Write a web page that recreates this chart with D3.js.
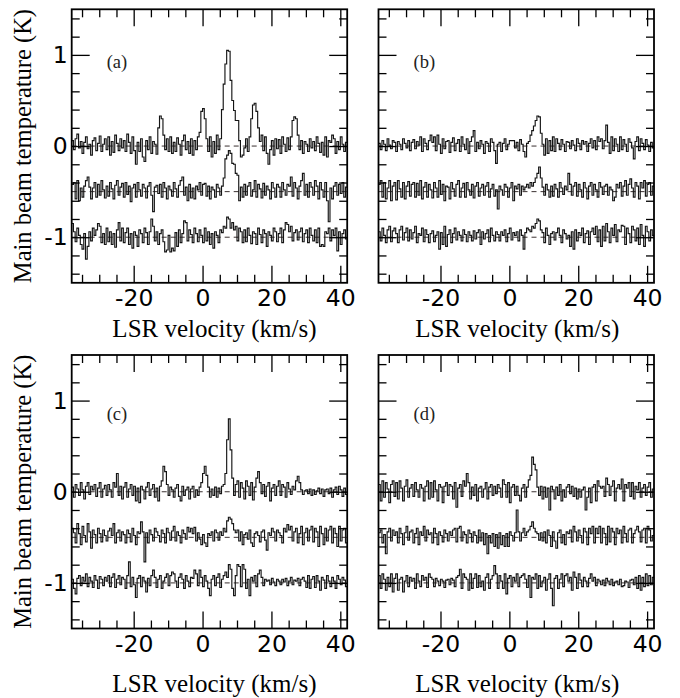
<!DOCTYPE html>
<html>
<head>
<meta charset="utf-8">
<script src="https://cdn.jsdelivr.net/npm/d3@7"></script>
<style>
  html, body { margin: 0; padding: 0; background: #fff; }
  svg { display: block; }
  .serif { font-family: 'Liberation Serif', 'Times New Roman', Times, serif; }
  .tick text { font-family: 'DejaVu Sans', sans-serif; }
</style>
</head>
<body>
<svg id="chart" width="680" height="698"></svg>
<script>
// channel grid: 160 channels of 0.5 km/s starting at -38 km/s
const vStart = -38, dv = 0.5;

// spectrum offsets (K) used to stack the three spectra of a panel
const offsets = [0, -0.5, -1];

// tick values
const xMajor = [-20, 0, 20, 40];
const xMinor = [-35, -30, -25, -15, -10, -5, 5, 10, 15, 25, 30, 35];
const yMajor = [-1, 0, 1];
const yMinor = [-1.4, -1.2, -0.8, -0.6, -0.4, -0.2, 0.2, 0.4, 0.6, 0.8, 1.2, 1.4];

// panel (a) — each row is 5 km/s
const aTop = [
  .06,-.04,.08,.13,-.02,.05,-.08,.04,.1,-.03,
  .02,-.1,.06,.09,-.05,.03,.11,-.06,.02,.08,
  -.04,.1,-.1,.05,-.07,.12,.03,-.05,.08,-.02,
  .06,-.06,.13,.04,-.08,.1,-.05,-.2,.04,-.06,
  .08,-.12,-.17,.06,-.04,.1,-.08,.05,.02,-.09,
  .2,.33,.3,.12,-.04,.08,-.06,.1,-.08,.04,
  -.06,.09,.02,-.1,.06,.12,-.04,.05,-.08,.08,
  -.1,.06,-.04,.1,.15,.38,.41,.3,.08,-.06,
  .1,-.12,.05,-.08,.12,-.04,.08,.4,.68,.9,
  1.05,1.04,.72,.5,.39,.28,.28,.06,-.12,-.1,
  -.02,.08,-.06,.1,.3,.45,.47,.38,.2,.05,
  .12,-.05,.1,-.08,-.2,-.04,.06,-.1,.08,-.03,
  .07,-.08,.1,.02,-.06,.09,-.04,.1,.28,.32,
  .3,.12,-.04,.06,-.08,.05,.02,-.06,.08,-.02,
  .05,-.05,.1,.03,-.07,.04,-.1,.1,-.12,.06,
  .04,.12,.08,-.08,.05,-.04,.1,.02,-.06,.04
];
const aMid = [
  .08,.1,-.08,.12,-.1,.04,-.06,.06,.12,.16,
  .05,-.08,.04,.1,-.06,.08,-.04,.12,.02,-.07,
  .06,-.05,.1,.03,-.08,.07,.12,-.04,.05,.09,
  -.06,.1,-.03,.06,-.11,.04,.08,-.06,.1,.02,
  -.05,.08,.04,-.07,.06,.1,-.04,-.22,.05,.07,
  -.02,.08,-.06,.1,.04,-.08,.06,.02,-.05,.1,
  .03,-.06,.07,.12,.16,-.04,.05,-.1,.08,-.07,
  .04,-.08,.06,.02,.1,-.04,.08,.09,-.05,.06,
  -.08,.05,.02,-.06,.08,.04,-.04,.06,.15,.36,
  .4,.45,.42,.31,.3,.2,.18,-.1,.05,-.06,
  .08,-.04,.06,.1,-.05,.02,.12,-.06,.08,.03,
  -.07,.09,-.04,.06,.02,-.08,.1,.04,-.06,.08,
  .05,-.06,.1,.02,-.04,.08,.06,.16,-.05,.1,
  .04,-.08,.06,.12,.2,-.04,.08,-.06,.1,.05,
  -.04,.12,.06,-.08,.1,.02,-.06,.1,-.1,-.33,
  .04,-.08,.06,.1,-.04,.08,-.02,.1,-.06,.05
];
const aBot = [
  .15,.06,-.05,.1,.02,-.08,-.13,.04,-.24,-.1,
  .06,-.04,.1,.02,.08,.15,.12,-.06,.04,-.08,
  .1,-.05,.06,-.08,.04,-.11,.08,.16,-.04,.1,
  -.06,.05,.1,-.08,.04,-.12,.06,.02,-.1,.08,
  .04,-.06,.1,.05,-.08,.06,.2,.12,-.04,.06,
  -.08,.04,.08,-.05,-.16,-.14,.02,-.16,-.12,-.15,
  .05,-.1,.08,-.06,.04,.18,.16,-.04,.08,.03,
  -.06,.1,.04,-.05,.08,.02,-.06,.1,-.04,.06,
  -.08,.04,-.12,.06,.02,-.06,.08,.05,.12,.1,
  .22,.2,.1,.16,.08,.12,-.04,.1,.06,-.06,
  .08,-.05,.1,.02,-.07,.06,.04,-.08,.1,.03,
  -.06,.08,.04,-.1,.06,.02,-.04,.1,.06,-.05,
  .04,.1,-.06,.08,.16,.14,.06,.12,-.04,.05,
  .08,-.03,.06,.1,-.05,.04,.08,-.06,.1,.02,
  -.04,.08,-.06,.1,-.1,-.08,-.1,.06,.04,.1,
  -.04,.08,.02,.1,-.15,.06,-.08,.04,.08,-.02
];

// panel (b)
const bTop = [
  .03,-.04,.06,.02,-.05,.08,.01,-.03,.06,.04,
  -.06,.05,.02,-.04,.08,.03,-.02,.06,-.05,.04,
  .07,-.03,.05,.01,.1,-.06,.08,.03,-.04,.06,
  .12,.04,.1,-.05,.12,.02,-.08,.08,-.03,.05,
  .06,-.07,.04,.09,-.05,.03,.07,-.06,.1,.02,
  -.04,.08,-.08,.05,.1,.17,-.06,.04,-.03,.06,
  .02,-.08,.05,.03,-.06,.08,.04,-.05,-.19,.02,
  .04,-.06,.03,.08,-.04,.02,.06,.06,.06,-.02,
  .04,-.05,.07,.02,-.06,-.12,.03,.05,.12,.17,
  .22,.28,.33,.32,.14,.02,-.1,.08,-.08,.06,
  -.05,.1,-.06,.08,.03,-.04,.07,.02,-.06,.05,
  .04,-.03,.06,.01,-.05,.08,.03,-.04,.06,.02,
  .05,-.06,.03,.08,-.02,.06,-.04,.1,.05,.08,
  -.03,.06,.23,.04,-.08,.1,-.05,.08,.02,-.06,
  .1,-.04,.07,.02,-.06,.08,.04,-.02,-.14,.05,
  .1,-.05,.08,.03,-.04,.07,.01,-.06,.04,-.02
];
const bMid = [
  .08,.12,-.06,.1,-.08,.04,.12,-.1,.06,.1,
  -.09,.12,.03,-.06,.1,-.08,.06,.11,-.05,.08,
  .1,-.06,.09,-.04,.12,-.08,.05,.1,-.06,.08,
  .02,-.07,.1,.04,-.06,.12,-.03,.08,-.1,.06,
  .05,-.08,.1,.03,-.05,.08,.12,-.06,.04,.09,
  -.06,.1,.02,-.04,.08,-.07,.06,.1,-.05,.04,
  .08,-.04,.06,.1,-.06,.03,.08,-.05,.02,-.19,
  .06,.02,-.04,.08,.05,-.06,.04,.1,-.1,.06,
  .03,.08,-.04,.06,.02,.05,.08,.04,.1,.06,
  .1,.15,.2,.27,.15,.05,-.04,.08,.02,-.06,
  .06,-.05,.08,.03,-.06,.1,.04,-.03,.06,.02,
  .2,.08,-.04,.06,.1,-.05,.08,.02,-.06,.1,
  .04,-.08,.06,.1,-.04,.08,.02,-.06,.1,.05,
  -.03,.06,.08,-.04,.05,.02,-.1,-.06,.08,.04,
  .1,-.05,.06,.12,-.04,.08,.14,.04,-.06,.1,
  .06,-.08,.1,.04,.12,-.05,.08,.1,-.04,.06
];
const bBot = [
  .06,-.04,.1,.02,-.06,.08,.12,-.05,.07,.1,
  .04,-.06,.08,.12,-.03,.05,.1,-.04,.08,-.02,
  .05,.12,-.06,.04,.02,.1,-.05,.08,.03,-.06,
  .04,.07,-.05,.02,.06,-.13,.05,-.08,.12,-.1,
  .03,.08,-.06,.04,.1,-.03,.06,.02,-.04,.08,
  .03,-.05,.06,.02,-.04,.07,-.02,.05,.08,-.08,
  .06,-.02,.04,.08,-.05,.1,.02,-.04,.06,.03,
  -.04,.06,.02,.08,-.05,.04,.1,-.03,.05,.02,
  .06,-.04,.08,.02,-.13,.05,.1,.08,.06,.12,
  .1,.15,.2,.18,.08,.05,-.06,.1,.02,-.08,
  .04,.06,-.03,.05,.1,.02,-.06,.08,.04,-.02,
  .02,-.1,.06,-.13,.08,-.04,.05,.02,.1,-.06,
  .04,.07,-.08,.06,.1,.03,.12,-.05,.08,-.1,
  .12,-.04,.15,.06,-.06,.1,.02,.14,-.05,.08,
  .06,.13,.12,-.08,.1,.04,-.06,.12,.08,-.04,
  .1,-.08,.14,.02,-.1,.12,.06,-.04,.08,.02
];

// panel (c)
const cTop = [
  .05,-.06,.08,.03,-.04,.1,.02,-.08,.06,.1,
  -.03,.06,.02,.08,-.05,.04,.1,-.06,.03,.07,
  -.04,.08,.02,-.06,.1,.05,.2,-.04,.06,-.08,
  .05,.1,-.06,.03,.08,-.04,.06,-.1,.04,-.12,
  .06,.02,-.08,.05,.1,-.04,.03,.08,-.06,.04,
  -.1,.06,.12,.28,.22,.08,-.04,.05,.02,-.06,
  .04,.08,-.05,-.1,.06,-.04,.02,.05,-.08,.03,
  .06,-.06,.02,-.04,.05,.1,.2,.28,.18,.05,
  -.06,.03,-.04,.05,-.06,.04,-.02,.06,.08,.2,
  .57,.8,.46,.15,-.04,.08,.12,-.06,.1,.04,
  -.08,.12,.06,-.04,.1,-.09,.05,.15,.22,.1,
  -.02,.08,-.05,.06,.1,-.1,.04,.08,-.04,.06,
  .12,-.04,.08,.05,-.06,.1,.03,-.03,.06,.02,
  .12,.17,.1,.02,-.03,.01,.02,-.02,.03,-.04,
  .02,-.03,.01,.04,-.02,.03,-.05,.02,.03,-.02,
  .04,-.06,.02,.05,-.03,.06,.02,-.05,.04,-.03
];
const cMid = [
  .1,.05,-.06,.15,.04,-.08,.12,.02,-.05,.15,
  .06,-.12,.08,.03,-.06,.1,.04,-.05,.08,.02,
  -.04,.07,.1,.02,.15,-.06,.05,.08,-.04,.06,
  .03,-.06,.08,.04,-.05,.1,.02,-.08,.06,.04,
  .17,.06,-.27,.05,-.06,.08,.03,-.04,.1,.06,
  .02,-.05,.08,.04,-.06,.1,.05,-.03,.07,.12,
  -.04,.06,.02,-.06,.08,.04,-.02,.11,.06,.1,
  .04,.11,-.04,.05,-.02,-.08,.03,-.06,-.1,.04,
  .02,.06,-.04,.08,.05,-.03,.06,.02,.1,.06,
  .18,.22,.2,.15,.08,.05,.08,-.04,.06,-.08,
  .03,.05,-.02,.08,-.06,-.1,.04,.06,.02,-.05,
  .06,.08,-.03,-.14,.05,.02,.1,.06,-.04,.08,
  .05,.02,-.06,.1,.06,.14,.08,.12,-.04,.06,
  .1,-.06,.04,.12,-.08,.05,.1,-.04,.08,.12,
  -.05,.1,.06,-.1,.12,.04,-.08,.1,-.04,.08,
  .12,-.06,.1,.04,-.1,.12,-.04,.08,.1,-.06
];
const cBot = [
  .04,-.06,-.12,.05,.08,-.03,.06,.02,.1,-.04,
  .06,.02,-.05,.08,.03,-.06,.07,.04,-.03,.06,
  .02,.08,-.04,.06,.1,-.05,.04,.08,-.02,.06,
  .04,-.06,.08,.23,-.04,.06,-.02,-.16,.05,.08,
  -.04,.06,.02,-.1,.05,-.03,.08,.14,.06,-.05,
  .04,.08,-.06,.02,.06,.1,-.03,.08,.12,.1,
  .02,-.05,.06,.1,.04,-.06,.08,.02,-.04,.06,
  .05,.14,.1,-.03,.14,.06,-.04,.08,.02,-.06,
  -.14,.04,.08,-.03,.06,.1,-.05,.04,.08,.12,
  .06,.2,.15,-.06,-.14,.08,.2,.18,-.04,.2,
  .15,-.06,.04,-.14,.06,.02,.08,-.04,.1,.14,
  .06,-.03,.04,.02,.03,-.02,.05,.01,-.03,.04,
  .02,-.02,.04,.01,.05,-.03,.02,.06,-.02,.03,
  .02,.05,-.03,.04,.06,.02,-.05,.08,-.06,.04,
  .07,-.05,.08,.02,-.08,.06,.03,-.06,.08,.02,
  -.04,.06,.02,-.06,.08,.04,-.02,.06,.03,-.04
];

// panel (d)
const dTop = [
  .08,-.1,.12,-.06,.1,.03,-.12,.08,.12,-.05,
  .1,-.08,.12,.04,-.1,.06,.13,-.06,.04,.08,
  -.05,.1,.02,-.06,.08,.04,-.1,.06,.12,-.08,
  .1,-.06,.12,.02,-.1,.08,.05,-.12,.06,.1,
  -.04,.08,.06,-.08,.1,-.17,.04,.08,-.05,.12,
  .06,.2,.1,-.08,.05,-.04,.08,-.1,.04,.06,
  -.06,.03,.1,-.08,.05,.08,-.04,.06,-.02,.08,
  .04,-.06,.13,.08,-.06,.1,-.12,.05,.08,-.04,
  .06,-.04,-.1,.04,.08,-.06,.05,.13,.18,.38,
  .3,.24,.05,-.04,.06,-.08,.05,-.06,.04,-.2,
  .06,.02,-.08,.05,-.04,.08,-.1,.02,-.06,.05,
  .08,-.02,.06,-.05,.04,-.08,.03,-.06,.02,.05,
  -.2,-.06,.04,-.12,.05,.08,-.1,.12,.06,.04,
  .06,-.05,.15,.08,-.04,.06,.12,-.1,.04,.08,
  .03,.14,-.1,.08,.04,.1,-.05,.1,-.08,.06,
  .02,.1,-.06,.04,.08,-.04,.05,.1,-.06,.03
];
const dMid = [
  .05,.08,-.06,.03,-.18,.06,.1,-.04,.08,.02,
  .06,-.06,.1,.04,-.08,.05,.12,-.03,.06,.08,
  -.06,.04,.1,-.08,.06,.02,.12,-.04,.08,.03,
  .05,-.06,.1,.04,-.08,.06,.02,-.05,.08,.04,
  -.04,.06,.02,.08,.1,-.05,.1,.12,-.04,.06,
  .03,-.06,.08,.04,-.05,.06,.02,-.06,.08,-.04,
  .05,-.08,.04,-.18,.02,-.06,.04,-.1,.03,-.12,
  .05,-.08,.02,-.1,.04,-.1,.06,.02,-.04,.05,
  .3,.06,-.04,.05,.1,.02,.06,.08,.12,.17,
  .1,.06,.04,-.03,.05,-.04,.06,-.06,.08,.02,
  -.1,.06,-.04,-.12,.05,.08,-.06,.03,-.08,.06,
  .04,.08,-.05,.12,.06,-.04,.08,.02,-.06,.1,
  .06,-.08,.1,.04,.12,-.06,.1,.04,.12,-.06,
  .1,.04,-.08,.12,-.05,.1,.06,-.08,.1,.04,
  .08,-.06,.12,.04,-.05,.08,.1,-.06,.04,.08,
  .12,.06,-.05,.08,.1,-.06,.12,.08,-.04,.02
];
const dBot = [
  .08,-.06,.1,.04,-.08,.06,-.04,.1,-.1,.05,
  .1,-.08,.04,.06,-.1,.02,.08,-.04,.06,.02,
  .05,-.06,.1,.02,-.04,.08,.03,.06,-.05,.1,
  .06,.04,-.04,.05,.02,-.03,.04,.02,-.05,.03,
  .04,-.02,.05,.03,-.04,.06,.08,.15,-.06,.1,
  .06,.04,-.08,.1,-.06,.05,.1,-.05,.08,-.04,
  .02,-.08,.06,.1,-.06,.04,.08,.19,.1,-.06,
  .08,.02,-.06,.1,-.12,.05,.08,-.04,.06,.02,
  .1,-.04,.06,.08,.1,.04,-.05,.08,-.16,.06,
  .04,.1,-.06,.08,-.04,.02,.06,-.08,.04,.1,
  -.06,-.25,.05,.08,-.06,.04,.1,-.04,.08,.1,
  .02,.06,-.08,.12,.06,-.06,.1,.03,-.04,.06,
  .02,-.04,.05,.1,.02,.06,-.03,.04,.02,-.02,
  .03,-.03,.05,.02,-.02,.04,-.03,.01,.02,-.02,
  .04,-.04,-.03,.02,.01,-.05,.03,.04,-.02,.06,
  -.06,.08,-.08,.06,-.04,.1,-.03,.08,-.02,.06
];

const panels = [
  { label: '(a)', col: 0, row: 0, spectra: [aTop, aMid, aBot] },
  { label: '(b)', col: 1, row: 0, spectra: [bTop, bMid, bBot] },
  { label: '(c)', col: 0, row: 1, spectra: [cTop, cMid, cBot] },
  { label: '(d)', col: 1, row: 1, spectra: [dTop, dMid, dBot] }
];

// ── layout ────────────────────────────────────────────────
const colLeft = [71.7, 378.5], rowTop = [9.3, 355];
const PW = 275.5, PH = 273.5;

const svg = d3.select('#chart');
const fmtTick = d => d < 0 ? '-' + Math.abs(d) : String(d);

panels.forEach((p, k) => {
  const left = colLeft[p.col], top = rowTop[p.row];
  const x = d3.scaleLinear().domain([-38, 42]).range([0, PW]);
  const y = d3.scaleLinear().domain([-1.5, 1.5]).range([PH, 0]);
  const g = svg.append('g').attr('transform', `translate(${left},${top})`);

  g.append('clipPath').attr('id', 'clip' + k)
    .append('rect').attr('width', PW).attr('height', PH);

  // dashed baselines
  g.selectAll('.base').data(offsets).join('line')
    .attr('class', 'base')
    .attr('x1', 0).attr('x2', PW)
    .attr('y1', d => y(d)).attr('y2', d => y(d))
    .attr('stroke', '#3a3030').attr('stroke-width', 1)
    .attr('stroke-dasharray', '5,4');

  // spectra (histogram steps)
  const line = d3.line().x(d => x(d.v)).y(d => y(d.t)).curve(d3.curveStepAfter);
  p.spectra.forEach((vals, j) => {
    const pts = vals.map((t, i) => ({ v: vStart + i * dv, t: t + offsets[j] }));
    pts.push({ v: vStart + vals.length * dv, t: vals[vals.length - 1] + offsets[j] });
    g.append('path').attr('d', line(pts))
      .attr('clip-path', `url(#clip${k})`)
      .attr('fill', 'none').attr('stroke', '#141414').attr('stroke-width', 1.15);
  });

  // ticks: all four sides, pointing in
  const tickStyle = sel => {
    sel.select('.domain').remove();
    sel.selectAll('.tick line').attr('stroke', '#000').attr('stroke-width', 1.3);
  };
  g.append('g').attr('transform', `translate(0,${PH})`)
    .call(d3.axisBottom(x).tickValues(xMinor).tickSize(-8).tickFormat('')).call(tickStyle);
  g.append('g')
    .call(d3.axisTop(x).tickValues(xMinor).tickSize(-8).tickFormat('')).call(tickStyle);
  g.append('g')
    .call(d3.axisTop(x).tickValues(xMajor).tickSize(-17).tickFormat('')).call(tickStyle);
  const xb = g.append('g').attr('transform', `translate(0,${PH})`)
    .call(d3.axisBottom(x).tickValues(xMajor).tickSize(-17).tickPadding(7).tickFormat(fmtTick))
    .call(tickStyle);
  xb.attr('font-family', null).attr('font-size', null);
  xb.selectAll('text').attr('font-size', '23.5px').attr('fill', '#000');

  g.append('g')
    .call(d3.axisLeft(y).tickValues(yMinor).tickSize(-8).tickFormat('')).call(tickStyle);
  g.append('g').attr('transform', `translate(${PW},0)`)
    .call(d3.axisRight(y).tickValues(yMinor).tickSize(-8).tickFormat('')).call(tickStyle);
  g.append('g').attr('transform', `translate(${PW},0)`)
    .call(d3.axisRight(y).tickValues(yMajor).tickSize(-18).tickFormat('')).call(tickStyle);
  const yl = g.append('g')
    .call(d3.axisLeft(y).tickValues(yMajor).tickSize(-18).tickPadding(4)
      .tickFormat(p.col === 0 ? fmtTick : ''))
    .call(tickStyle);
  yl.attr('font-family', null).attr('font-size', null);
  yl.selectAll('text').attr('font-size', '23.5px').attr('fill', '#000');

  // frame
  g.append('rect').attr('width', PW).attr('height', PH)
    .attr('fill', 'none').attr('stroke', '#000').attr('stroke-width', 1.8);

  // panel label
  g.append('text').attr('class', 'serif')
    .attr('x', 35).attr('y', p.row === 0 ? 59 : 65)
    .style('font-size', '18.5px').attr('fill', '#222')
    .text(p.label);

  // x title
  g.append('text').attr('class', 'serif')
    .attr('x', PW / 2 + (p.col === 0 ? 5 : 1))
    .attr('y', PH + (p.row === 0 ? 54.5 : 63))
    .attr('text-anchor', 'middle')
    .style('font-size', '25px').attr('fill', '#000')
    .text('LSR velocity (km/s)');

  // y title
  if (p.col === 0) {
    svg.append('text').attr('class', 'serif')
      .attr('transform', `translate(31,${top + PH / 2}) rotate(-90)`)
      .attr('text-anchor', 'middle')
      .style('font-size', '24.5px').attr('fill', '#000')
      .text('Main beam temperature (K)');
  }
});
</script>
</body>
</html>
